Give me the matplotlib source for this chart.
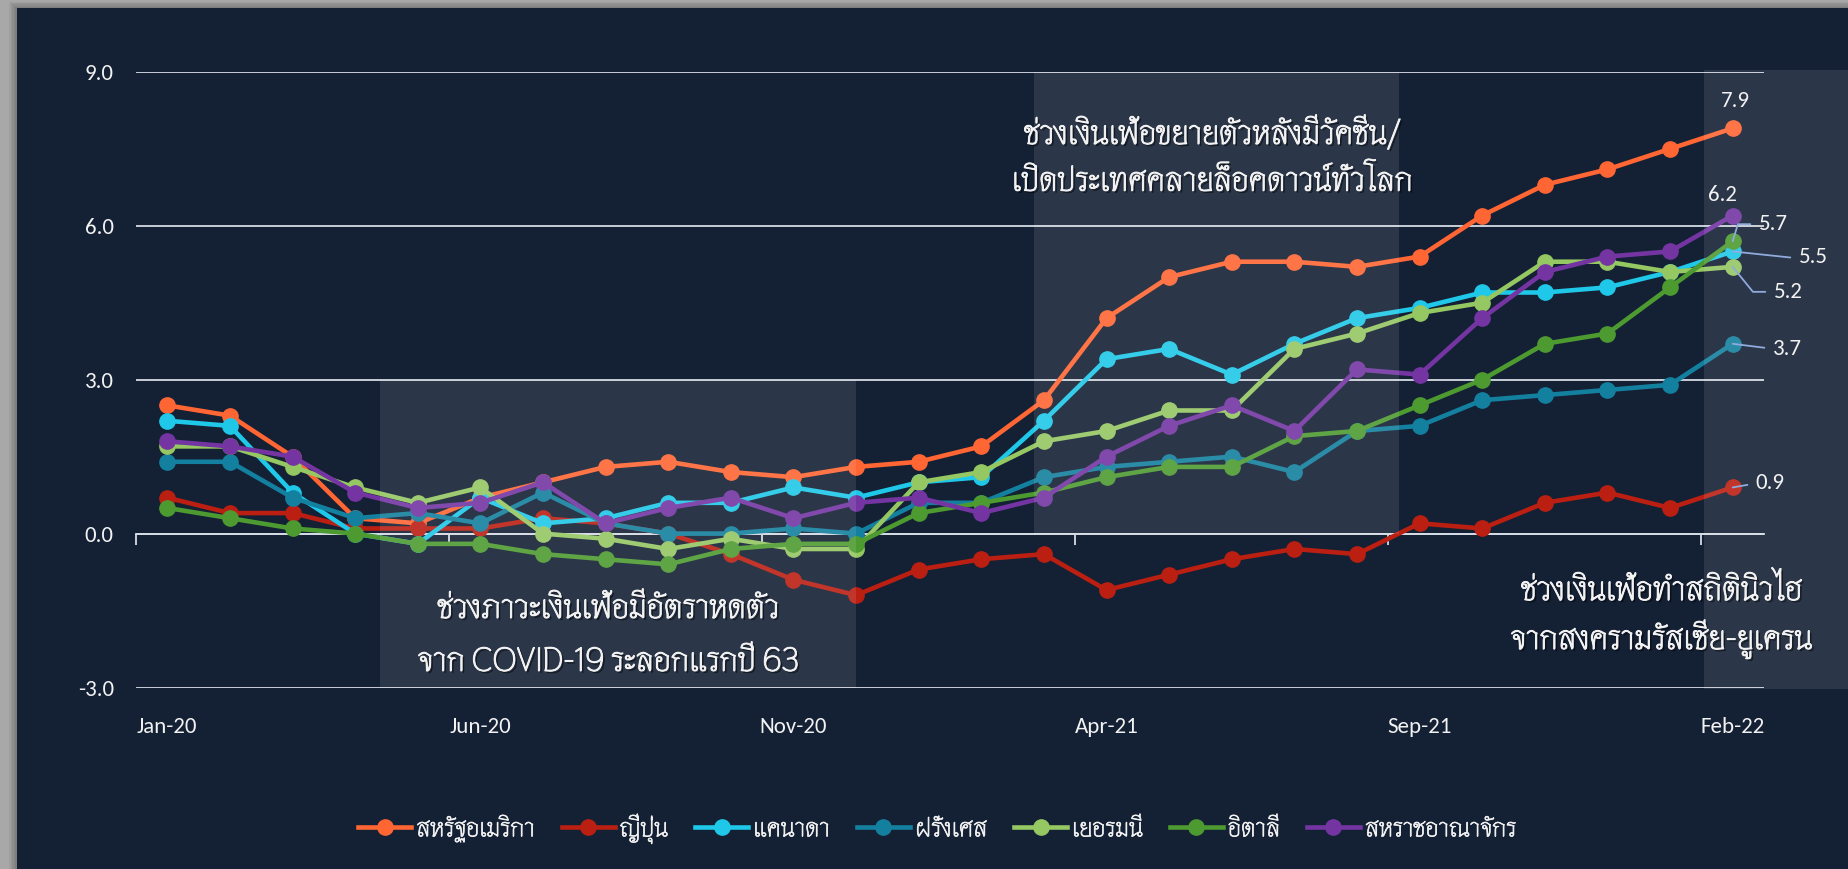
import matplotlib
matplotlib.use("Agg")
import matplotlib.pyplot as plt
import matplotlib.patheffects as pe
from matplotlib.patches import Rectangle

plt.rcParams['font.family'] = ['Carlito', 'Thasadith', 'Sarabun', 'Noto Sans Thai', 'DejaVu Sans']
plt.rcParams['axes.unicode_minus'] = False

# monthly CPI inflation (% yoy), Jan-20 .. Feb-22
months = ["Jan-20", "Feb-20", "Mar-20", "Apr-20", "May-20", "Jun-20", "Jul-20", "Aug-20", "Sep-20",
          "Oct-20", "Nov-20", "Dec-20", "Jan-21", "Feb-21", "Mar-21", "Apr-21", "May-21", "Jun-21",
          "Jul-21", "Aug-21", "Sep-21", "Oct-21", "Nov-21", "Dec-21", "Jan-22", "Feb-22"]
usa = [2.5, 2.3, 1.5, 0.3, 0.2, 0.7, 1.0, 1.3, 1.4, 1.2, 1.1, 1.3, 1.4, 1.7, 2.6, 4.2, 5.0, 5.3,
       5.3, 5.2, 5.4, 6.2, 6.8, 7.1, 7.5, 7.9]
japan = [0.7, 0.4, 0.4, 0.1, 0.1, 0.1, 0.3, 0.2, 0.0, -0.4, -0.9, -1.2, -0.7, -0.5, -0.4, -1.1, -0.8, -0.5,
         -0.3, -0.4, 0.2, 0.1, 0.6, 0.8, 0.5, 0.9]
canada = [2.2, 2.1, 0.8, 0.0, -0.2, 0.7, 0.2, 0.3, 0.6, 0.6, 0.9, 0.7, 1.0, 1.1, 2.2, 3.4, 3.6, 3.1,
          3.7, 4.2, 4.4, 4.7, 4.7, 4.8, 5.1, 5.5]
france = [1.4, 1.4, 0.7, 0.3, 0.4, 0.2, 0.8, 0.2, 0.0, 0.0, 0.1, 0.0, 0.6, 0.6, 1.1, 1.3, 1.4, 1.5,
          1.2, 2.0, 2.1, 2.6, 2.7, 2.8, 2.9, 3.7]
germany = [1.7, 1.7, 1.3, 0.9, 0.6, 0.9, 0.0, -0.1, -0.3, -0.1, -0.3, -0.3, 1.0, 1.2, 1.8, 2.0, 2.4, 2.4,
           3.6, 3.9, 4.3, 4.5, 5.3, 5.3, 5.1, 5.2]
italy = [0.5, 0.3, 0.1, 0.0, -0.2, -0.2, -0.4, -0.5, -0.6, -0.3, -0.2, -0.2, 0.4, 0.6, 0.8, 1.1, 1.3, 1.3,
         1.9, 2.0, 2.5, 3.0, 3.7, 3.9, 4.8, 5.7]
uk = [1.8, 1.7, 1.5, 0.8, 0.5, 0.6, 1.0, 0.2, 0.5, 0.7, 0.3, 0.6, 0.7, 0.4, 0.7, 1.5, 2.1, 2.5,
      2.0, 3.2, 3.1, 4.2, 5.1, 5.4, 5.5, 6.2]

names = ["สหรัฐอเมริกา", "ญี่ปุ่น", "แคนาดา", "ฝรั่งเศส", "เยอรมนี", "อิตาลี", "สหราชอาณาจักร"]
series = [usa, japan, canada, france, germany, italy, uk]
colors = ["#FF6633", "#BA1F12", "#1FC8E8", "#13809F", "#95C763", "#4D9A31", "#7435A3"]

BG = "#142034"
GRID = "#D6DCE5"
TXT = "#F2F2F2"
THAI = ['Thasadith', 'Sarabun', 'Carlito', 'DejaVu Sans']

fig = plt.figure(figsize=(18.49, 8.69), dpi=100)
fig.patch.set_facecolor("#A8A8A8")
W, H = 1849.0, 869.0
# soft shadow + dark panel
for k in range(6):
    fig.add_artist(Rectangle(((17 - k * 1.5) / W, 0), 1.0, (H - 8 + k * 1.2) / H, transform=fig.transFigure,
                             facecolor="black", alpha=0.05, lw=0, zorder=-2))
fig.add_artist(Rectangle((17 / W, 0), 1.0, (H - 8) / H, transform=fig.transFigure,
                         facecolor=BG, lw=0, zorder=-1))

ax = fig.add_axes([136 / W, 181.5 / H, 1628 / W, 615.6 / H])
ax.set_facecolor("none")
ax.set_xlim(-0.5, 25.5)
ax.set_ylim(-3, 9)
for s in ax.spines.values():
    s.set_visible(False)

x = list(range(len(months)))
for name, vals, c in zip(names, series, colors):
    ax.plot(x, vals, color=c, lw=3.3, marker="o", ms=11, label=name, zorder=2)

ax.set_yticks([-3, 0, 3, 6, 9])
ax.set_yticklabels(["%.1f" % v for v in [-3, 0, 3, 6, 9]])
ax.yaxis.grid(True, color=GRID, lw=1.3, zorder=1)
ax.set_axisbelow(True)
ax.tick_params(axis="y", length=0, pad=16, labelsize=16.5, labelcolor=TXT)
ax.set_xticks(x[::5])
ax.set_xticklabels(months[::5])
ax.tick_params(axis="x", length=0, pad=21, labelsize=16.5, labelcolor=TXT)

# category axis line at zero with tick marks between categories
y0, y1 = ax.get_ylim()
sec = ax.secondary_xaxis((0 - y0) / (y1 - y0))
sec.set_xticks([t - 0.5 for t in x[::5]])
sec.tick_params(length=8, width=1.3, color=GRID, direction="out", labelbottom=False)
sec.spines["bottom"].set_color(GRID)
sec.spines["bottom"].set_linewidth(1.3)

# period highlights
ax.add_patch(Rectangle((3.39, -3), 11.0 - 3.39, 6, facecolor="white", alpha=0.1, lw=0, zorder=3))
ax.add_patch(Rectangle((13.84, 0), 19.67 - 13.84, 9.03, facecolor="white", alpha=0.1, lw=0, zorder=3))
ax.add_patch(Rectangle((24.54, -3.03), 3.0, 12.06, facecolor="white", alpha=0.1, lw=0, zorder=3,
                       clip_on=False))

shadow = [pe.withSimplePatchShadow(offset=(1.5, -1.5), shadow_rgbFace="black", alpha=0.55),
          pe.withStroke(linewidth=0.7, foreground=TXT)]
notes = [
    (0.290, 0.113, "ช่วงภาวะเงินเฟ้อมีอัตราหดตัว"),
    (0.290, 0.027, "จาก COVID-19 ระลอกแรกปี 63"),
    (0.661, 0.883, "ช่วงเงินเฟ้อขยายตัวหลังมีวัคซีน/"),
    (0.661, 0.807, "เปิดประเทศคลายล็อคดาวน์ทั่วโลก"),
    (0.937, 0.142, "ช่วงเงินเฟ้อทำสถิตินิวไฮ"),
    (0.937, 0.0625, "จากสงครามรัสเซีย-ยูเครน"),
]
for tx, ty, s in notes:
    ax.text(tx, ty, s, transform=ax.transAxes, ha="center", va="baseline", fontsize=24,
            family=THAI, color=TXT, zorder=6, path_effects=shadow)

# labels on the last point
last = x[-1]
lead = "#8FAADC"
above = {0: (3, 27), 6: (-10, 21)}
side = {5: (26, 17, "angle,angleA=0,angleB=73,rad=0"),
        2: (66, -6, "angle,angleA=0,angleB=-6,rad=0"),
        4: (41, -25, "angle,angleA=0,angleB=-51,rad=0"),
        3: (40, -5, "arc3"),
        1: (23, 4, "arc3")}
for i, (dx, dy) in above.items():
    v = series[i][-1]
    ax.annotate("%.1f" % v, (last, v), xytext=(dx, dy), textcoords="offset pixels",
                ha="center", va="center", fontsize=16.5, color=TXT, zorder=7)
for i, (dx, dy, cs) in side.items():
    v = series[i][-1]
    ax.annotate("%.1f" % v, (last, v), xytext=(dx, dy), textcoords="offset pixels",
                ha="left", va="center", fontsize=16.5, color=TXT, zorder=7,
                arrowprops=dict(arrowstyle="-", color=lead, lw=1.3, shrinkA=4, shrinkB=0,
                                relpos=(0, 0.5), connectionstyle=cs))

handles, labels = ax.get_legend_handles_labels()
leg = fig.legend(handles, labels, loc="center", bbox_to_anchor=(0.507, 0.046), ncol=7, frameon=False,
                 fontsize=18.5, handlelength=2.05, handletextpad=0.2, columnspacing=1.05, labelcolor=TXT)
for t in leg.get_texts():
    t.set_path_effects([pe.withStroke(linewidth=0.5, foreground=TXT)])

fig.savefig("out.png", dpi=100, facecolor=fig.get_facecolor())
